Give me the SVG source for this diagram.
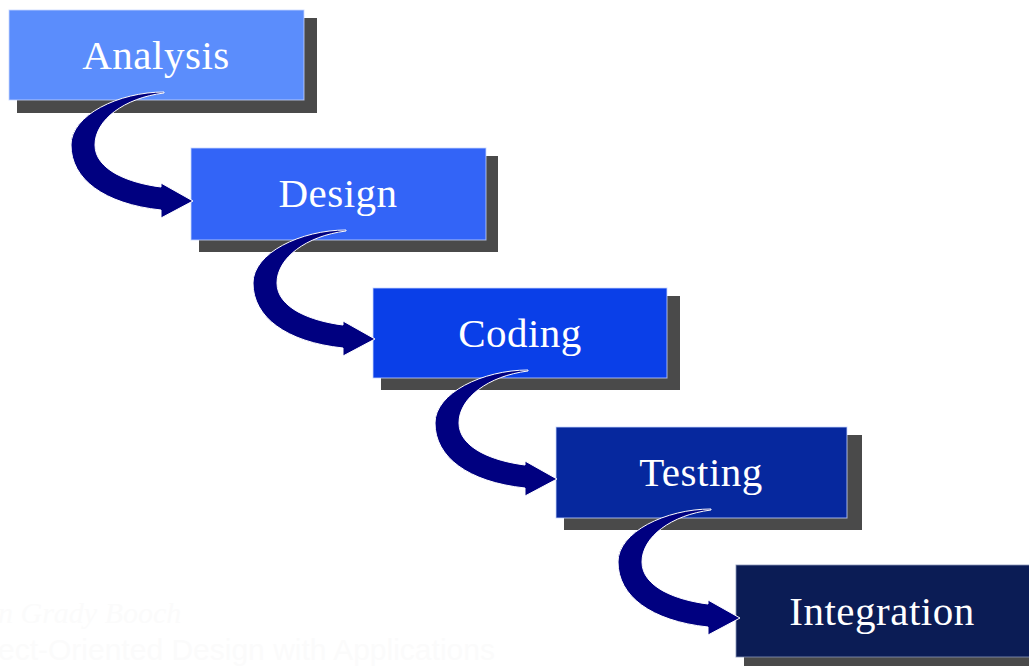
<svg xmlns="http://www.w3.org/2000/svg" width="1029" height="666" viewBox="0 0 1029 666">
  <style>
    .shadow { fill: #4a4a4a; }
    .box { stroke: #c8d6ff; stroke-width: 1; stroke-opacity: 0.8; }
    .label { font-family: "Liberation Serif", "Times New Roman", serif; font-size: 41px; fill: #ffffff; text-anchor: middle; letter-spacing: 0.5px; }
    .arrow { fill: #000080; stroke: #ffffff; stroke-width: 1; stroke-linejoin: round; }
    .faint { fill: #fbfbfb; }
  </style>
  <defs>
    <path id="curl" d="M 155 82 C 110 82 62 105 62 135 C 62 169 95 194 152 200 L 152 208 L 184 191 L 152 173 L 152 177 C 120 173 86 160 86 135 C 86 110 115 88 155 83 Z"/>
  </defs>
  <rect width="1029" height="666" fill="#ffffff"/>

  <g id="analysis">
    <rect class="shadow" x="17" y="18" width="300" height="95"/>
    <rect class="box" x="9" y="10" width="295" height="90" fill="#5b8dfc"/>
    <text class="label" x="156" y="69">Analysis</text>
  </g>
  <g id="design">
    <rect class="shadow" x="199" y="156" width="299" height="96"/>
    <rect class="box" x="191" y="148" width="295" height="92" fill="#3364f7"/>
    <text class="label" x="338" y="207">Design</text>
  </g>
  <g id="coding">
    <rect class="shadow" x="381" y="296" width="299" height="94"/>
    <rect class="box" x="373" y="288" width="294" height="90" fill="#0a3fe8"/>
    <text class="label" x="520" y="347">Coding</text>
  </g>
  <g id="testing">
    <rect class="shadow" x="564" y="435" width="298" height="95"/>
    <rect class="box" x="556" y="427" width="291" height="91" fill="#06289e"/>
    <text class="label" x="701" y="486">Testing</text>
  </g>
  <g id="integration">
    <rect class="shadow" x="744" y="573" width="300" height="100"/>
    <rect class="box" x="736" y="565" width="300" height="92" fill="#0b1c55" style="stroke:#8a96b8"/>
    <text class="label" x="882" y="625">Integration</text>
  </g>

  <g id="connectors">
    <use href="#curl" class="arrow" transform="translate(9,10)"/>
    <use href="#curl" class="arrow" transform="translate(191,148)"/>
    <use href="#curl" class="arrow" transform="translate(373,288)"/>
    <use href="#curl" class="arrow" transform="translate(556,427)"/>
  </g>

  <g id="caption">
    <text class="faint" x="-2" y="623" font-family="Liberation Serif, serif" font-style="italic" font-size="30">n Grady Booch</text>
    <text class="faint" x="-2" y="660" font-family="Liberation Sans, sans-serif" font-size="30">ect-Oriented Design with Applications</text>
  </g>
</svg>
